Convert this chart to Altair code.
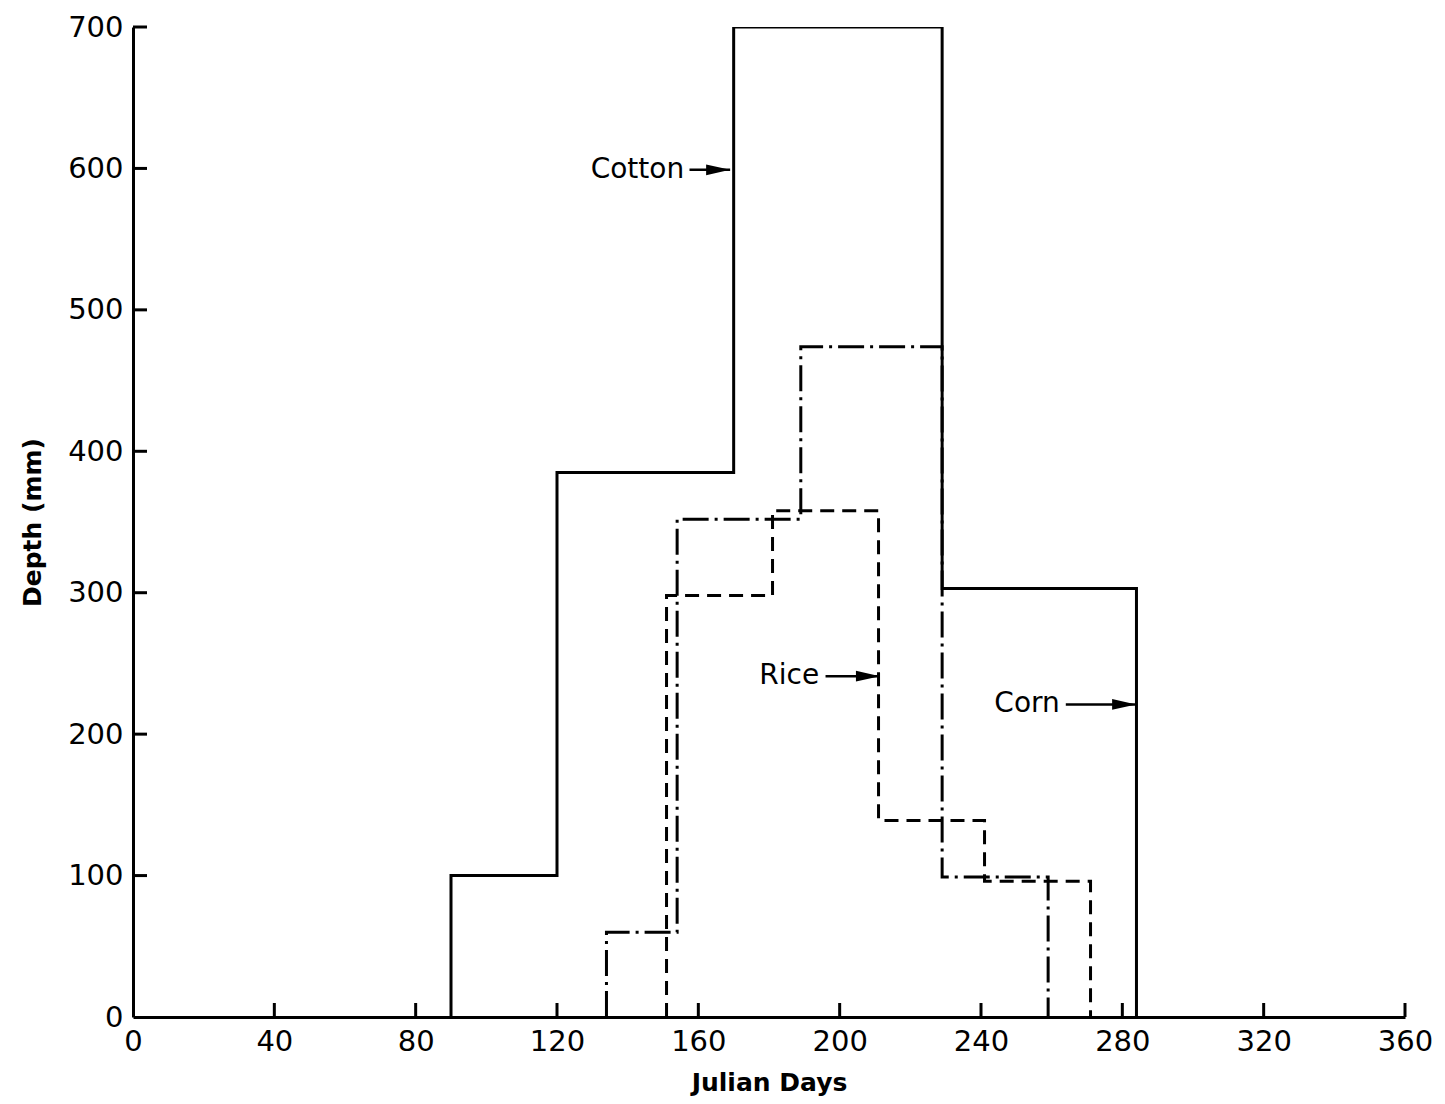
import altair as alt
import pandas as pd

# step edges (Julian days) and depths (mm) for each series
solid_edges = [90, 120, 170, 229, 284]
solid_vals = [100, 385, 700, 303]
dashdot_edges = [134, 154, 189, 229, 259]
dashdot_vals = [60, 352, 474, 99]
rice_edges = [151, 181, 211, 241, 271]
rice_vals = [298, 358, 139, 96]

x_ticks = [0, 40, 80, 120, 160, 200, 240, 280, 320, 360]
y_ticks = [0, 100, 200, 300, 400, 500, 600, 700]

# annotations: label, text anchor x, y, arrow start x, arrow end x
ann_labels = ["Cotton", "Rice", "Corn"]
ann_x = [156, 194.2, 262.3]
ann_y = [599, 241, 221]
arr_x0 = [157.5, 196, 264]
arr_x1 = [169, 211.4, 283.9]

FONT = "DejaVu Sans"


def step_points(edges, vals):
    xs = [edges[0]] + list(edges)
    ys = [0] + list(vals) + [0]
    return pd.DataFrame({"x": xs, "y": ys})


xs = alt.Scale(domain=[0, 360], nice=False)
ys = alt.Scale(domain=[0, 700], nice=False)


def line_layer(df, dash):
    kw = dict(color="black", strokeWidth=3, interpolate="step-after", clip=True)
    if dash:
        kw["strokeDash"] = dash
    return alt.Chart(df).mark_line(**kw).encode(
        x=alt.X("x:Q", scale=xs,
                axis=alt.Axis(values=x_ticks, title="Julian Days", grid=False, ticks=False,
                              domainColor="black", domainWidth=3, labelFontSize=29,
                              labelColor="black", labelFont=FONT, labelPadding=10,
                              labelFlush=False,
                              titleFontSize=25, titleFont=FONT, titleColor="black",
                              titleFontWeight="bold", titlePadding=14)),
        y=alt.Y("y:Q", scale=ys,
                axis=alt.Axis(values=y_ticks, title="Depth (mm)", grid=False, ticks=False,
                              domainColor="black", domainWidth=3, labelFontSize=29,
                              labelColor="black", labelFont=FONT, labelPadding=10,
                              labelFlush=False,
                              titleFontSize=25, titleFont=FONT, titleColor="black",
                              titleFontWeight="bold", titlePadding=22)),
        order="idx:Q",
    ).transform_window(idx="row_number()")


solid = line_layer(step_points(solid_edges, solid_vals), None)
dashdot = line_layer(step_points(dashdot_edges, dashdot_vals), [26, 6, 3, 6])
rice = line_layer(step_points(rice_edges, rice_vals), [14, 8])

xt = pd.DataFrame({"x": x_ticks[1:]})
yt = pd.DataFrame({"y": y_ticks[1:]})
xticks = alt.Chart(xt).mark_rule(color="black", strokeWidth=3).encode(
    x=alt.X("x:Q", scale=xs), y=alt.value(990), y2=alt.value(976))
yticks = alt.Chart(yt).mark_rule(color="black", strokeWidth=3).encode(
    y=alt.Y("y:Q", scale=ys), x=alt.value(0), x2=alt.value(14))

ann = pd.DataFrame({"label": ann_labels, "tx": ann_x, "y": ann_y,
                    "x0": arr_x0, "x1": arr_x1})
texts = alt.Chart(ann).mark_text(align="right", baseline="middle", fontSize=28,
                                 font=FONT, color="black").encode(
    x=alt.X("tx:Q", scale=xs), y=alt.Y("y:Q", scale=ys), text="label:N")
shafts = alt.Chart(ann).mark_rule(color="black", strokeWidth=2.5).encode(
    x=alt.X("x0:Q", scale=xs), x2="x1:Q", y=alt.Y("y:Q", scale=ys))
heads = alt.Chart(ann).mark_point(
    shape="M-2,-0.45L0,0L-2,0.45Z", filled=True, color="black", size=576, opacity=1,
    strokeWidth=0).encode(
    x=alt.X("x1:Q", scale=xs), y=alt.Y("y:Q", scale=ys))

chart = alt.layer(solid, dashdot, rice, xticks, yticks, shafts, heads, texts).properties(
    width=1272, height=990,
    autosize=alt.AutoSizeParams(type="none"),
    padding={"left": 125, "top": 19, "right": 30, "bottom": 80},
    background="white",
).configure_view(stroke=None)

chart.save("out.html", embed_options={"renderer": "svg", "actions": False})
